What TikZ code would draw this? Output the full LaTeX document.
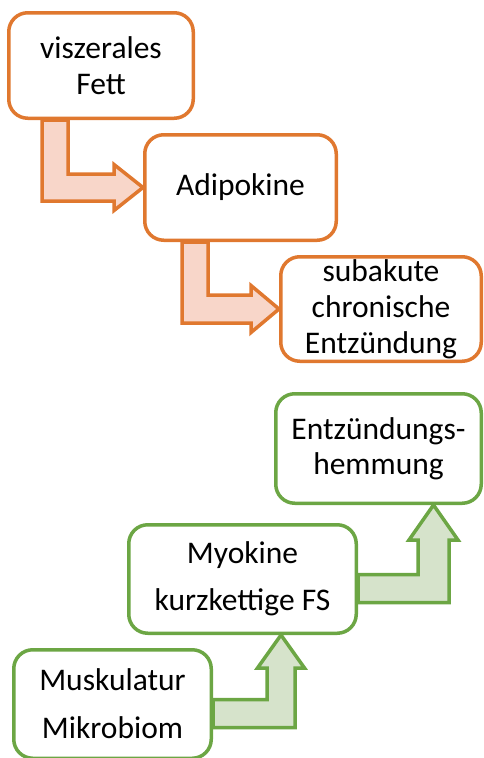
\documentclass[tikz,border=0pt]{standalone}
\usepackage{fontspec}
\setmainfont{Carlito}
\usetikzlibrary{calc,backgrounds}
\definecolor{ostroke}{HTML}{E0782F}
\definecolor{ofill}{HTML}{F8D6C9}
\definecolor{gstroke}{HTML}{6CA644}
\definecolor{gfill}{HTML}{D6E3CB}
\begin{document}
\begin{tikzpicture}[x=1pt,y=-1pt,
  box/.style={draw, fill=white, line width=3.5pt, rounded corners=19pt, align=center, inner sep=0pt},
  obox/.style={box, draw=ostroke, font=\fontsize{31.5}{36}\selectfont},
  gbox/.style={box, draw=gstroke},
  oarrow/.style={draw=ostroke, fill=ofill, line width=3.5pt, line join=miter},
  garrow/.style={draw=gstroke, fill=gfill, line width=3.5pt, line join=miter}]
\useasboundingbox (0,0) rectangle (484,758);
\node[obox, minimum width=184.5pt, minimum height=105.5pt] (b1) at (101,65.5) {viszerales\\Fett};
\node[obox, minimum width=191.5pt, minimum height=105.5pt] (b2) at (240.5,187.5) {Adipokine};
\node[obox, minimum width=200.5pt, minimum height=104.5pt] (b3) at (381,309) {subakute\\chronische\\Entzündung};
\node[gbox, font=\fontsize{31.5}{35}\selectfont, minimum width=205.5pt, minimum height=109.5pt] (b4) at (378.5,448.5) {Entzündungs-\\hemmung};
\node[gbox, font=\fontsize{31.5}{47}\selectfont, minimum width=227.5pt, minimum height=108.5pt] (b5) at (242.5,579) {Myokine\\kurzkettige FS};
\node[gbox, font=\fontsize{31.5}{48}\selectfont, minimum width=197.5pt, minimum height=108.5pt] (b6) at (112.5,704) {Muskulatur\\Mikrobiom};
\begin{scope}[on background layer]
% arrow 1
\coordinate (s1) at ($(b1.south west)+(48,0)$);
\draw[oarrow] ($(s1)+(-13,0)$) |- ($(b2.west)+(-29,13.5)$) -- ++(0,9.5) -- (b2.west)
  -- ($(b2.west)+(-29,-23)$) -- ++(0,9.5) -| ($(s1)+(13,0)$) -- cycle;
% arrow 2
\coordinate (s2) at ($(b2.south west)+(52,0)$);
\draw[oarrow] ($(s2)+(-13,0)$) |- ($(b3.west)+(-28,14)$) -- ++(0,9.5) -- (b3.west)
  -- ($(b3.west)+(-28,-23.5)$) -- ++(0,9.5) -| ($(s2)+(13,0)$) -- cycle;
% arrow 3
\coordinate (a3) at ($(b6.east)+(0,9.5)$);
\coordinate (t3) at ($(b5.south)+(38.5,0)$);
\draw[garrow] ($(a3)+(0,14)$) -| ($(t3)+(14,33)$) -- ++(9.5,0) -- (t3)
  -- ($(t3)+(-23.5,33)$) -- ++(9.5,0) |- ($(a3)+(0,-14)$) -- cycle;
% arrow 4
\coordinate (a4) at ($(b5.east)+(0,9.5)$);
\coordinate (t4) at ($(b4.south)+(55,0)$);
\draw[garrow] ($(a4)+(0,14)$) -| ($(t4)+(15.5,35)$) -- ++(9,0) -- (t4)
  -- ($(t4)+(-24.5,35)$) -- ++(9,0) |- ($(a4)+(0,-14)$) -- cycle;
\end{scope}
\end{tikzpicture}
\end{document}
